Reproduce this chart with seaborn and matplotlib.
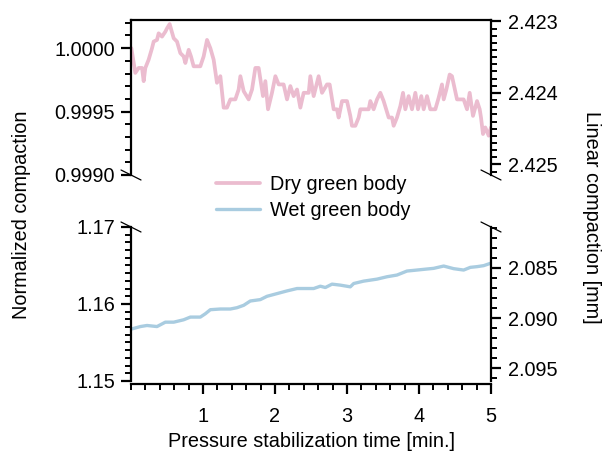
import numpy as np
import pandas as pd
import matplotlib
matplotlib.use("Agg")
import matplotlib.pyplot as plt
from matplotlib.ticker import MultipleLocator, FixedLocator, FormatStrFormatter
import seaborn as sns

# ---------------- data ----------------
time_dry = [0.005, 0.060, 0.106, 0.153, 0.176, 0.199, 0.245, 0.292, 0.315, 0.361,
            0.384, 0.431, 0.477, 0.500, 0.537, 0.560, 0.593, 0.639, 0.685, 0.731,
            0.755, 0.801, 0.833, 0.870, 0.963, 1.009, 1.056, 1.102, 1.148, 1.194,
            1.241, 1.287, 1.333, 1.380, 1.449, 1.495, 1.519, 1.565, 1.634, 1.681,
            1.727, 1.773, 1.833, 1.866, 1.903, 1.958, 2.005, 2.051, 2.120, 2.167,
            2.213, 2.259, 2.306, 2.352, 2.398, 2.468, 2.491, 2.537, 2.606, 2.653,
            2.722, 2.759, 2.815, 2.861, 2.884, 2.931, 3.000, 3.046, 3.069, 3.116,
            3.162, 3.185, 3.301, 3.324, 3.370, 3.417, 3.463, 3.509, 3.579, 3.625,
            3.648, 3.694, 3.741, 3.778, 3.810, 3.856, 3.903, 3.949, 3.986, 4.032,
            4.065, 4.111, 4.157, 4.227, 4.273, 4.319, 4.343, 4.380, 4.426, 4.458,
            4.528, 4.620, 4.667, 4.704, 4.750, 4.806, 4.843, 4.861, 4.889, 4.921,
            4.968, 5.000]
dry_norm = [1.000000, 0.999805, 0.999844, 0.999844, 0.999740, 0.999844, 0.999909, 1.000000, 1.000052, 1.000065,
            1.000117, 1.000091, 1.000130, 1.000156, 1.000190, 1.000143, 1.000078, 1.000052, 0.999961, 0.999935,
            0.999883, 0.999987, 0.999935, 0.999857, 0.999857, 0.999935, 1.000065, 1.000000, 0.999909, 0.999727,
            0.999779, 0.999531, 0.999531, 0.999596, 0.999596, 0.999674, 0.999779, 0.999661, 0.999596, 0.999674,
            0.999844, 0.999844, 0.999622, 0.999740, 0.999518, 0.999648, 0.999779, 0.999714, 0.999714, 0.999596,
            0.999701, 0.999622, 0.999674, 0.999531, 0.999648, 0.999648, 0.999779, 0.999622, 0.999779, 0.999648,
            0.999714, 0.999714, 0.999518, 0.999518, 0.999453, 0.999583, 0.999583, 0.999466, 0.999388, 0.999388,
            0.999453, 0.999518, 0.999518, 0.999583, 0.999518, 0.999596, 0.999648, 0.999583, 0.999453, 0.999453,
            0.999388, 0.999453, 0.999544, 0.999648, 0.999518, 0.999622, 0.999518, 0.999648, 0.999518, 0.999622,
            0.999518, 0.999622, 0.999518, 0.999518, 0.999609, 0.999714, 0.999596, 0.999674, 0.999792, 0.999779,
            0.999596, 0.999596, 0.999518, 0.999648, 0.999466, 0.999583, 0.999518, 0.999453, 0.999323, 0.999375,
            0.999310, 0.999375]

time_wet = [0.014, 0.130, 0.222, 0.361, 0.477, 0.593, 0.731, 0.824, 0.963, 1.032,
            1.102, 1.241, 1.380, 1.472, 1.565, 1.657, 1.796, 1.889, 2.028, 2.167,
            2.306, 2.444, 2.537, 2.630, 2.699, 2.792, 2.907, 3.046, 3.093, 3.231,
            3.417, 3.556, 3.694, 3.833, 3.972, 4.065, 4.204, 4.343, 4.481, 4.620,
            4.713, 4.806, 4.898, 4.991]
wet_norm = [1.15677, 1.15707, 1.15721, 1.15707, 1.15764, 1.15764, 1.15795, 1.15830, 1.15830, 1.15873,
            1.15926, 1.15935, 1.15935, 1.15952, 1.15983, 1.16039, 1.16057, 1.16100, 1.16135, 1.16170,
            1.16201, 1.16201, 1.16201, 1.16231, 1.16214, 1.16258, 1.16245, 1.16223, 1.16266, 1.16297,
            1.16323, 1.16354, 1.16376, 1.16428, 1.16441, 1.16450, 1.16463, 1.16493, 1.16459, 1.16441,
            1.16476, 1.16485, 1.16498, 1.16528]

series_labels = ["Dry green body", "Wet green body"]
x_ticks = [1, 2, 3, 4, 5]
top_left_ticks = [0.9990, 0.9995, 1.0000]
top_right_ticks = [2.423, 2.424, 2.425]
bot_left_ticks = [1.15, 1.16, 1.17]
bot_right_ticks = [2.085, 2.090, 2.095]

# ---------------- style ----------------
FS = 14.3
sns.set_theme(style="ticks")
plt.rcParams["font.family"] = ["Liberation Sans", "DejaVu Sans"]
plt.rcParams["font.size"] = FS
plt.rcParams["text.color"] = "black"
plt.rcParams["axes.labelcolor"] = "black"
plt.rcParams["axes.linewidth"] = 1.6
for ax_ in ("xtick", "ytick"):
    plt.rcParams[f"{ax_}.major.size"] = 7.5
    plt.rcParams[f"{ax_}.minor.size"] = 4.5
    plt.rcParams[f"{ax_}.major.width"] = 1.6
    plt.rcParams[f"{ax_}.minor.width"] = 1.4
    plt.rcParams[f"{ax_}.color"] = "black"
    plt.rcParams[f"{ax_}.labelcolor"] = "black"
    plt.rcParams[f"{ax_}.labelsize"] = FS
plt.rcParams["axes.edgecolor"] = "black"

PINK = "#EBBCCF"
BLUE = "#A9CCE0"

W, H = 603, 454
fig = plt.figure(figsize=(W / 100, H / 100), dpi=100)

def fax(x0, y0, x1, y1):
    return fig.add_axes([x0 / W, 1 - y1 / H, (x1 - x0) / W, (y1 - y0) / H])

ax_top = fax(131, 20, 491, 175)
ax_bot = fax(131, 227, 491, 381)

df_dry = pd.DataFrame({"t": time_dry, "v": dry_norm})
df_wet = pd.DataFrame({"t": time_wet, "v": wet_norm})

sns.lineplot(data=df_dry, x="t", y="v", ax=ax_top, color=PINK, lw=2.7,
             sort=False, estimator=None, label=series_labels[0])
sns.lineplot(data=df_wet, x="t", y="v", ax=ax_bot, color=BLUE, lw=2.4,
             sort=False, estimator=None, label=series_labels[1])

handles = ax_top.get_legend().legend_handles + ax_bot.get_legend().legend_handles
ax_top.get_legend().remove()
ax_bot.get_legend().remove()

for ax in (ax_top, ax_bot):
    ax.set_xlim(0, 5)
    ax.set_xlabel("")
    ax.set_ylabel("")
    ax.spines["right"].set_visible(False)
    ax.tick_params(axis="y", which="both", direction="out", pad=4)

# top panel
ax_top.set_ylim(0.9990, 1.000222)
ax_top.yaxis.set_major_locator(FixedLocator(top_left_ticks))
ax_top.yaxis.set_minor_locator(MultipleLocator(0.0001))
ax_top.yaxis.set_major_formatter(FormatStrFormatter("%.4f"))
ax_top.spines["bottom"].set_visible(False)
ax_top.tick_params(axis="x", which="both", bottom=False, labelbottom=False)

# bottom panel
ax_bot.set_ylim(1.15, 1.17)
ax_bot.yaxis.set_major_locator(FixedLocator(bot_left_ticks))
ax_bot.yaxis.set_minor_locator(MultipleLocator(0.001))
ax_bot.yaxis.set_major_formatter(FormatStrFormatter("%.2f"))
ax_bot.spines["top"].set_visible(False)
ax_bot.spines["bottom"].set_position(("outward", 2.5))
ax_bot.xaxis.set_major_locator(FixedLocator(x_ticks))
ax_bot.xaxis.set_minor_locator(MultipleLocator(0.2))
ax_bot.tick_params(axis="x", which="both", direction="out", pad=9)
ax_bot.set_xlabel("Pressure stabilization time [min.]", fontsize=FS, labelpad=4)

# right axes
tw_top = ax_top.twinx()
tw_top.set_ylim(2.425147, 2.42298)
tw_top.yaxis.set_major_locator(FixedLocator(top_right_ticks))
tw_top.yaxis.set_minor_locator(MultipleLocator(0.0001))
tw_top.yaxis.set_major_formatter(FormatStrFormatter("%.3f"))

tw_bot = ax_bot.twinx()
tw_bot.set_ylim(2.0963, 2.0809)
tw_bot.yaxis.set_major_locator(FixedLocator(bot_right_ticks))
tw_bot.yaxis.set_minor_locator(MultipleLocator(0.001))
tw_bot.yaxis.set_major_formatter(FormatStrFormatter("%.3f"))

for tw in (tw_top, tw_bot):
    for s in ("left", "top", "bottom"):
        tw.spines[s].set_visible(False)
    tw.spines["right"].set_visible(True)
    tw.tick_params(axis="y", which="both", direction="out", pad=5)

# break marks
def brk(ax, yfrac, hpx):
    dx = 10 / 360
    dy = 5 / hpx
    for xf in (0, 1):
        ax.plot([xf - dx, xf + dx], [yfrac + dy, yfrac - dy], transform=ax.transAxes,
                color="black", lw=0.9, clip_on=False)

brk(ax_top, 0, 155)
brk(ax_bot, 1, 154)

fig.legend(handles=handles, labels=series_labels, loc="center",
           bbox_to_anchor=(313 / W, 1 - 197.5 / H), frameon=False, fontsize=FS,
           handlelength=2.2, handletextpad=0.5, labelspacing=0.33, borderpad=0)

fig.text(22 / W, 1 - 215 / H, "Normalized compaction", rotation=90,
         ha="center", va="center", fontsize=FS, color="black")
fig.text(592 / W, 1 - 217 / H, "Linear compaction [mm]", rotation=270,
         ha="center", va="center", fontsize=FS, color="black")

fig.savefig("out.png", dpi=100)
